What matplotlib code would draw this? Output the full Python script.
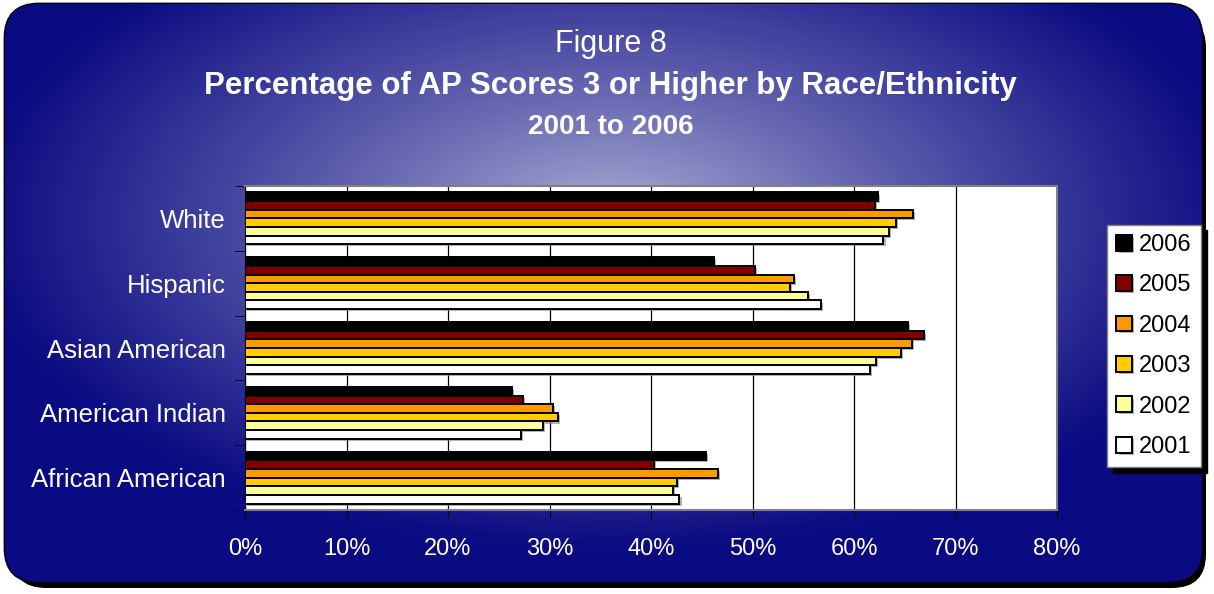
import numpy as np
import matplotlib.pyplot as plt
from matplotlib.patches import FancyBboxPatch
from matplotlib import patheffects as pe

plt.rcParams['font.family'] = ['Liberation Sans', 'DejaVu Sans']

groups = ["White", "Hispanic", "Asian American", "American Indian", "African American"]
years = ["2006", "2005", "2004", "2003", "2002", "2001"]
colors = ["#000000", "#800000", "#FF9900", "#FFCC00", "#FFFF99", "#FFFFFF"]

# percent of AP scores 3+, one list per year (same order as groups)
y2006 = [62.4, 46.2, 65.3, 26.3, 45.4]
y2005 = [62.1, 50.2, 66.9, 27.4, 40.3]
y2004 = [65.8, 54.1, 65.7, 30.3, 46.6]
y2003 = [64.1, 53.7, 64.6, 30.8, 42.6]
y2002 = [63.4, 55.5, 62.2, 29.4, 42.2]
y2001 = [62.9, 56.7, 61.6, 27.2, 42.8]
series = [y2006, y2005, y2004, y2003, y2002, y2001]

W, H = 1214, 594
fig = plt.figure(figsize=(W / 100, H / 100), dpi=100)

# background panel with radial gradient
bg = fig.add_axes([0, 0, 1, 1])
bg.set_xlim(0, W)
bg.set_ylim(H, 0)
bg.axis("off")
shadow = FancyBboxPatch((12, 14), W - 20, H - 20, boxstyle="round,pad=0,rounding_size=34",
                        facecolor="black", edgecolor="none")
bg.add_patch(shadow)
panel = FancyBboxPatch((5, 4), W - 17, H - 16, boxstyle="round,pad=0,rounding_size=34",
                       facecolor="none", edgecolor="black", linewidth=2)
bg.add_patch(panel)
xx, yy = np.meshgrid(np.arange(W), np.arange(H))
t = np.sqrt(((xx - 610) / 640.0) ** 2 + ((yy - 220) / 330.0) ** 2)
t = np.clip(t, 0, 1) ** 0.85
center = np.array([0.70, 0.70, 0.85])
edge = np.array([0.04, 0.04, 0.51])
img = center[None, None, :] * (1 - t[..., None]) + edge[None, None, :] * t[..., None]
im = bg.imshow(img, extent=(0, W, H, 0), zorder=1)
im.set_clip_path(panel)

# titles
fig.text(0.503, 1 - 44 / H, "Figure 8", color="white", fontsize=22, ha="center", va="center")
fig.text(0.503, 1 - 86 / H, "Percentage of AP Scores 3 or Higher by Race/Ethnicity",
         color="white", fontsize=22.5, fontweight="bold", ha="center", va="center")
fig.text(0.503, 1 - 127 / H, "2001 to 2006", color="white", fontsize=20,
         fontweight="bold", ha="center", va="center")

# main chart
ax = fig.add_axes([245 / W, 1 - 510 / H, (1057 - 245) / W, (510 - 186) / H])
ax.set_facecolor("white")
n = len(years)
bh = 0.8 / n
ypos = np.arange(len(groups))
for i, (yr, vals, c) in enumerate(zip(years, series, colors)):
    offs = -0.4 + bh * (i + 0.5)
    ax.barh(ypos + offs, vals, height=bh, color=c, edgecolor="black", linewidth=1.4,
            label=yr, zorder=3,
            path_effects=[pe.SimplePatchShadow(offset=(1.5, -1.5), shadow_rgbFace="gray", alpha=0.6),
                          pe.Normal()])

ax.set_xlim(0, 80)
ax.set_ylim(len(groups) - 0.5, -0.5)
ax.set_xticks(np.arange(0, 81, 10))
ax.set_xticklabels([f"{v}%" for v in range(0, 81, 10)])
ax.set_yticks(ypos)
ax.set_yticklabels(groups)
ax.set_yticks(np.arange(-0.5, len(groups), 1), minor=True)
ax.tick_params(axis="y", which="major", length=0, pad=14, labelsize=18.5, labelcolor="white")
ax.tick_params(axis="y", which="minor", length=7, direction="out", color="black")
ax.tick_params(axis="x", length=6, direction="out", pad=14, labelsize=17, labelcolor="white")
ax.xaxis.grid(True, color="black", linewidth=0.9, zorder=0)
ax.set_axisbelow(True)
for s in ["top", "right", "bottom"]:
    ax.spines[s].set_color("gray")
    ax.spines[s].set_linewidth(1.5)
ax.spines["left"].set_color("black")

leg = fig.legend(loc="center", bbox_to_anchor=(1154 / W, 1 - 346 / H), fontsize=17,
                 frameon=True, fancybox=False, edgecolor="gray", framealpha=1,
                 handlelength=0.65, handleheight=0.65, handletextpad=0.3,
                 labelspacing=0.78, borderpad=0.4, borderaxespad=0,
                 shadow={"color": "black", "alpha": 1, "ox": 4, "oy": -4})

fig.savefig("out.png", dpi=100)
